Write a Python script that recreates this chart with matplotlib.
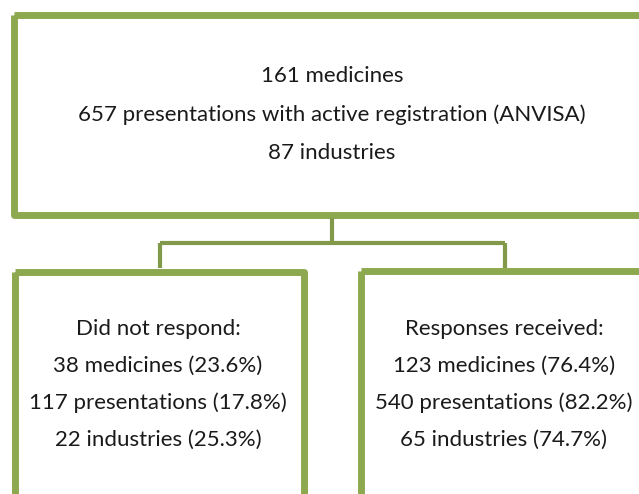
import matplotlib.pyplot as plt
from matplotlib.patches import Rectangle

plt.rcParams['font.family'] = ['Lato', 'DejaVu Sans']

# text of the three boxes
top_lines = ["161 medicines",
             "657 presentations with active registration (ANVISA)",
             "87 industries"]
left_lines = ["Did not respond:",
              "38 medicines (23.6%)",
              "117 presentations (17.8%)",
              "22 industries (25.3%)"]
right_lines = ["Responses received:",
               "123 medicines (76.4%)",
               "540 presentations (82.2%)",
               "65 industries (74.7%)"]

box_col = '#8DA94F'
line_col = '#82994A'
txt_col = '#1a1a1a'

fig = plt.figure(figsize=(6.39, 4.94), dpi=100)
ax = fig.add_axes([0, 0, 1, 1])
ax.set_xlim(0, 639)
ax.set_ylim(494, 0)
ax.axis('off')

lw_box = 5.0
# boxes (x, y, w, h) in pixel coords, some run off the page like the original
for (x, y, w, h) in [(13.5, 15.5, 700, 199), (14.5, 271.5, 289, 300), (360.5, 271, 350, 300)]:
    ax.add_patch(Rectangle((x, y), w, h, fill=False, ec=box_col, lw=lw_box,
                           joinstyle='round'))

# connectors
ax.plot([331.5, 331.5], [218, 243], color=line_col, lw=3, solid_capstyle='butt')
ax.plot([159.5, 504.5], [243, 243], color=line_col, lw=3, solid_capstyle='butt')
ax.plot([159.5, 159.5], [243, 268], color=line_col, lw=3, solid_capstyle='butt')
ax.plot([504.5, 504.5], [243, 268], color=line_col, lw=3, solid_capstyle='butt')

fs = 16
for i, t in enumerate(top_lines):
    ax.text(332, 76 + i * 38.5, t, ha='center', va='center', fontsize=fs, color=txt_col)
for i, t in enumerate(left_lines):
    ax.text(158, 329 + i * 37, t, ha='center', va='center', fontsize=fs, color=txt_col)
for i, t in enumerate(right_lines):
    ax.text(504, 329 + i * 37, t, ha='center', va='center', fontsize=fs, color=txt_col)

fig.savefig('out.png', dpi=100)
